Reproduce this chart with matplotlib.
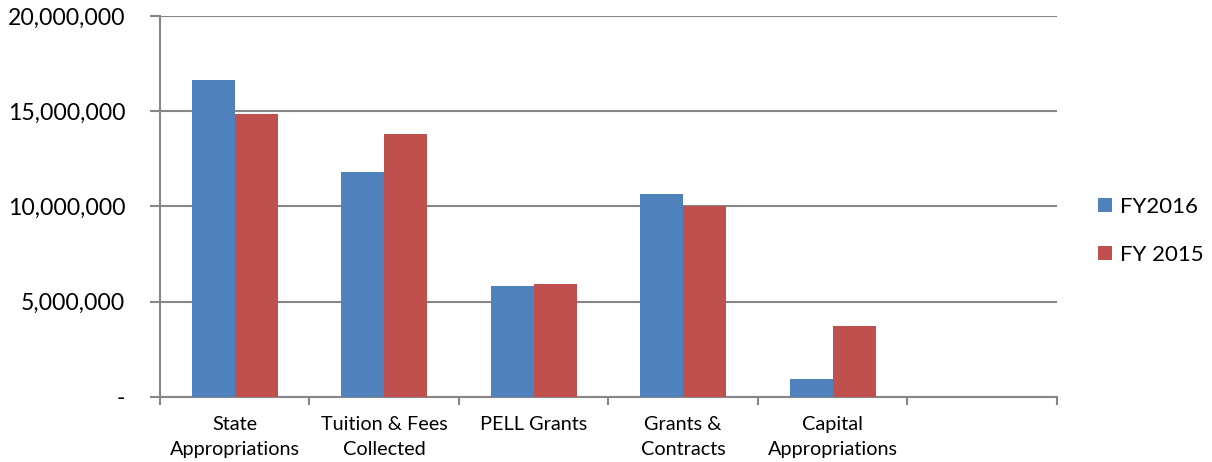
import matplotlib.pyplot as plt
import numpy as np
from matplotlib.ticker import FuncFormatter

plt.rcParams['font.family'] = ['Lato', 'DejaVu Sans']

categories = ["State\nAppropriations", "Tuition & Fees\nCollected", "PELL Grants",
              "Grants &\nContracts", "Capital\nAppropriations", ""]
fy2016 = [16640000, 11810000, 5830000, 10660000, 940000, 0]
fy2015 = [14860000, 13800000, 5930000, 10030000, 3730000, 0]
series_names = ["FY2016", "FY 2015"]

blue = "#4F81BD"
red = "#C0504D"
grid_c = "#868686"

fig = plt.figure(figsize=(12.12, 4.62), dpi=100)
ax = fig.add_axes([0.132, 0.1407, 0.740, 0.8247])

x = np.arange(len(categories))
w = 0.288
ax.bar(x - w / 2, fy2016, w, color=blue, label=series_names[0], zorder=3)
ax.bar(x + w / 2, fy2015, w, color=red, label=series_names[1], zorder=3)

ax.set_xlim(-0.5, len(categories) - 0.5)
ax.set_ylim(0, 20000000)
ax.set_yticks(np.arange(0, 20000001, 5000000))
ax.yaxis.set_major_formatter(FuncFormatter(lambda v, p: "-" if v == 0 else f"{v:,.0f}"))
ax.grid(axis='y', color=grid_c, linewidth=1.5, zorder=0)

# category labels centered, ticks at slot boundaries
ax.set_xticks(x)
ax.set_xticklabels(categories, fontsize=14.3, linespacing=1.55)
ax.tick_params(axis='x', length=0, pad=14)
ax.set_xticks(np.arange(-0.5, len(categories)), minor=True)
ax.tick_params(axis='x', which='minor', length=6, width=1.5, color=grid_c, direction='out')
ax.tick_params(axis='y', length=7, width=1.5, color=grid_c, labelsize=16.6, pad=18)

for s in ['top', 'right']:
    ax.spines[s].set_visible(False)
for s in ['left', 'bottom']:
    ax.spines[s].set_color(grid_c)
    ax.spines[s].set_linewidth(1.5)

ax.legend(loc='center left', bbox_to_anchor=(1.024, 0.436), frameon=False, fontsize=16,
          handlelength=0.6, handleheight=0.6, handletextpad=0.35, labelspacing=1.25)

fig.savefig("out.png", dpi=100)
